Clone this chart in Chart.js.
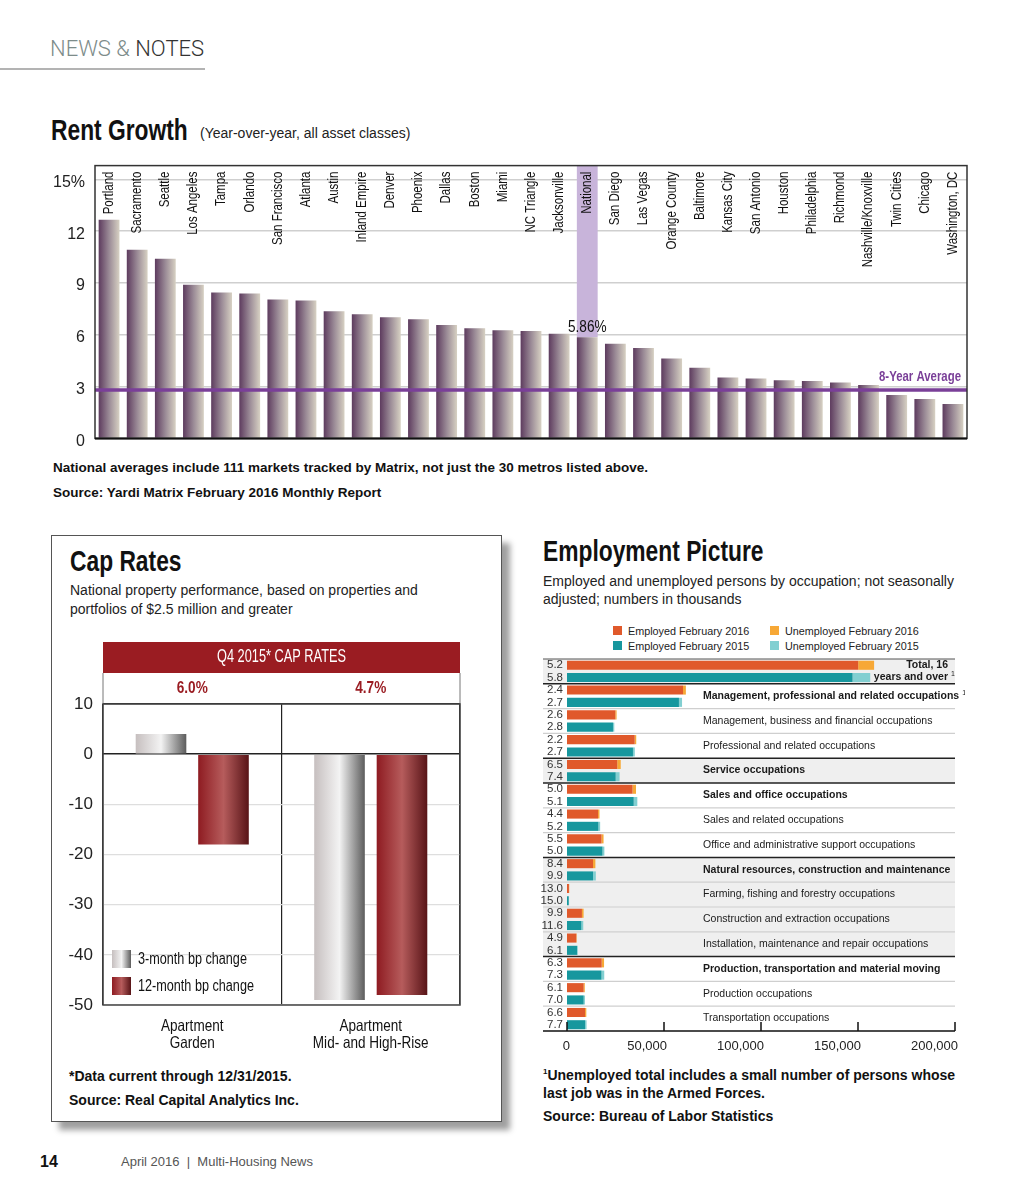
<!DOCTYPE html>
<html>
<head>
<meta charset="utf-8">
<script src="https://cdn.jsdelivr.net/npm/chart.js@4.4.1/dist/chart.umd.min.js"></script>
<style>
    body { margin: 0; background: #fff; font-family: "Liberation Sans", Arial, sans-serif; color: #111; }
    #page { position: relative; width: 1024px; height: 1195px; overflow: hidden; }
    .abs { position: absolute; white-space: nowrap; }
    .title { font-weight: bold; font-size: 30px; line-height: 32px; transform: scaleX(0.76); transform-origin: left center; }
    .sub { font-size: 14px; line-height: 19px; color: #222; }
    .note { font-weight: bold; font-size: 13.5px; line-height: 17px; color: #111; }
    .box { position: absolute; left: 51px; top: 535px; width: 449px; height: 585px; border: 1px solid #555;
           box-shadow: 8px 8px 6px rgba(0, 0, 0, 0.38); background: #fff; }
    .sw { position: absolute; width: 9px; height: 9px; }
    .lg { font-size: 10.8px; line-height: 14px; color: #222; }
</style>
</head>
<body>
<div id="page">
    <div class="abs" style="left:50px;top:35px;font-family:Roboto,sans-serif;font-weight:300;font-size:22px;line-height:28px;">
        <span style="color:#7d8c8a">NEWS &amp; </span><span style="color:#333">NOTES</span>
    </div>
    <div class="abs" style="left:0;top:68px;width:205px;height:2px;background:#b3b3b3"></div>

    <div class="abs title" style="left:51px;top:114px">Rent Growth</div>
    <div class="abs sub" style="left:200px;top:124px">(Year-over-year, all asset classes)</div>
    <div class="abs" style="left:40px;top:146px;width:935px;height:312px"><canvas id="rentChart"></canvas></div>
    <div class="abs note" style="left:53px;top:459px">National averages include 111 markets tracked by Matrix, not just the 30 metros listed above.</div>
    <div class="abs note" style="left:53px;top:484px">Source: Yardi Matrix February 2016 Monthly Report</div>

    <div class="box"></div>
    <div class="abs title" style="left:70px;top:545px">Cap Rates</div>
    <div class="abs sub" style="left:70px;top:581px">National property performance, based on properties and<br>portfolios of $2.5 million and greater</div>
    <div class="abs" style="left:50px;top:640px;width:445px;height:415px"><canvas id="capChart"></canvas></div>
    <div class="abs note" style="left:69px;top:1068px;font-size:14px">*Data current through 12/31/2015.</div>
    <div class="abs note" style="left:69px;top:1092px;font-size:14px">Source: Real Capital Analytics Inc.</div>

    <div class="abs title" style="left:543px;top:535px">Employment Picture</div>
    <div class="abs sub" style="left:543px;top:572px;line-height:18px">Employed and unemployed persons by occupation; not seasonally<br>adjusted; numbers in thousands</div>
    <div id="empLegend"></div>
    <div class="abs" style="left:540px;top:650px;width:425px;height:409px"><canvas id="empChart"></canvas></div>
    <div class="abs note" style="left:543px;top:1066px;font-size:14px;line-height:18px"><sup style="font-size:8px;line-height:0">1</sup>Unemployed total includes a small number of persons whose<br>last job was in the Armed Forces.</div>
    <div class="abs note" style="left:543px;top:1108px;font-size:14px">Source: Bureau of Labor Statistics</div>

    <div class="abs" style="left:40px;top:1152px;font-weight:bold;font-size:16px;line-height:20px">14</div>
    <div class="abs" style="left:121px;top:1154px;font-size:13px;line-height:16px;color:#555">April 2016 &nbsp;|&nbsp; Multi-Housing News</div>
</div>

<script>
const SANS = '"Liberation Sans", Arial, sans-serif'

// Rent growth (%)
const rentCities = ['Portland', 'Sacramento', 'Seattle', 'Los Angeles', 'Tampa', 'Orlando', 'San Francisco',
    'Atlanta', 'Austin', 'Inland Empire', 'Denver', 'Phoenix', 'Dallas', 'Boston', 'Miami', 'NC Triangle',
    'Jacksonville', 'National', 'San Diego', 'Las Vegas', 'Orange County', 'Baltimore', 'Kansas City',
    'San Antonio', 'Houston', 'Philadelphia', 'Richmond', 'Nashville/Knoxville', 'Twin Cities', 'Chicago',
    'Washington, DC']
const rentGrowth = [12.66, 10.93, 10.41, 8.90, 8.45, 8.39, 8.04, 7.98, 7.37, 7.19, 7.02, 6.90, 6.57, 6.38,
    6.26, 6.22, 6.06, 5.86, 5.48, 5.23, 4.63, 4.09, 3.53, 3.47, 3.37, 3.33, 3.24, 3.10, 2.52, 2.28, 1.99]
const rentAverage = 2.81
const rentTicks = [0, 3, 6, 9, 12, 15]

// Cap rates (bp change)
const capCategories = [['Apartment', 'Garden'], ['Apartment', 'Mid- and High-Rise']]
const capRates = ['6.0%', '4.7%']
const threeMonthChange = [4, -49]
const twelveMonthChange = [-18, -48]
const capTicks = [10, 0, -10, -20, -30, -40, -50]

// Employment (thousands) and unemployment rates (%)
const occupations = ['Total, 16 years and over', 'Management, professional and related occupations',
    'Management, business and financial occupations', 'Professional and related occupations',
    'Service occupations', 'Sales and office occupations', 'Sales and related occupations',
    'Office and administrative support occupations', 'Natural resources, construction and maintenance',
    'Farming, fishing and forestry occupations', 'Construction and extraction occupations',
    'Installation, maintenance and repair occupations', 'Production, transportation and material moving',
    'Production occupations', 'Transportation occupations']
const majorGroups = [0, 1, 4, 5, 8, 12]
const shadedGroups = [0, 4, 8, 9, 10, 11]
const employed2016 = [150100, 59800, 24900, 34900, 25900, 33800, 16000, 17800, 13400, 1000, 7700, 4800, 17900, 8600, 9300]
const unemployed2016 = [8200, 1470, 660, 790, 1800, 1780, 740, 1040, 1230, 150, 850, 250, 1200, 560, 660]
const employed2015 = [147200, 57700, 23700, 34000, 25100, 34400, 16200, 18300, 13400, 900, 7400, 5200, 17800, 8600, 9300]
const unemployed2015 = [9100, 1600, 680, 940, 2010, 1850, 890, 960, 1470, 160, 970, 340, 1400, 650, 780]
const rate2016 = ['5.2', '2.4', '2.6', '2.2', '6.5', '5.0', '4.4', '5.5', '8.4', '13.0', '9.9', '4.9', '6.3', '6.1', '6.6']
const rate2015 = ['5.8', '2.7', '2.8', '2.7', '7.4', '5.1', '5.2', '5.0', '9.9', '15.0', '11.6', '6.1', '7.3', '7.0', '7.7']
const employmentTicks = [0, 50000, 100000, 150000, 200000]

const legendItems = [
    ['Employed February 2016', '#e0592b'], ['Unemployed February 2016', '#f7a836'],
    ['Employed February 2015', '#17979e'], ['Unemployed February 2015', '#82cfd1']
]

const legendEl = document.getElementById('empLegend')
legendItems.forEach(([label, color], i) => {
    const x = i % 2 === 0 ? 613 : 770
    const y = i < 2 ? 626 : 641
    legendEl.innerHTML += `<div class="sw" style="left:${x}px;top:${y}px;background:${color}"></div>` +
        `<div class="abs lg" style="left:${x + 15}px;top:${y - 2.5}px">${label}</div>`
})

// condensed look: squeeze a regular face horizontally
const narrowText = (ctx, text, x, y, sx = 0.8) => {
    ctx.save()
    ctx.translate(x, y)
    ctx.scale(sx, 1)
    ctx.fillText(text, 0, 0)
    ctx.restore()
}

// horizontal gradient across a bar, position taken from the category scale
const barFill = (chart, center, width, stops, fallback) => {
    if (!chart.chartArea || !isFinite(center)) return fallback
    const g = chart.ctx.createLinearGradient(center - width / 2, 0, center + width / 2, 0)
    stops.forEach(([p, c]) => g.addColorStop(p, c))
    return g
}

const rentChart = new Chart(document.getElementById('rentChart'), {
    type: 'bar',
    data: {
        labels: rentCities,
        datasets: [{
            label: 'Rent growth',
            data: rentGrowth,
            categoryPercentage: 1,
            barPercentage: 0.74,
            backgroundColor: (ctx) => {
                const x = ctx.chart.scales.x
                if (!x) return '#8a7688'
                const w = (x.width / rentCities.length) * 0.74
                return barFill(ctx.chart, x.getPixelForValue(ctx.dataIndex), w,
                    [[0, '#5d3b5e'], [0.5, '#9a8a96'], [1, '#d7d1c3']], '#8a7688')
            }
        }]
    },
    options: {
        responsive: true,
        maintainAspectRatio: false,
        animation: false,
        layout: { padding: { top: 0, right: 8, bottom: 0 } },
        plugins: { legend: { display: false }, tooltip: { enabled: false } },
        scales: {
            x: { display: false },
            y: {
                min: 0,
                max: 15.8,
                afterBuildTicks: (scale) => { scale.ticks = rentTicks.map((v) => ({ value: v })) },
                afterFit: (scale) => { scale.width = 55 },
                border: { display: false },
                grid: { color: '#cfcfcf', lineWidth: 1.5, drawTicks: false },
                ticks: {
                    padding: 10,
                    labelOffset: 3,
                    color: '#222',
                    font: { family: SANS, size: 16 },
                    callback: (v) => (v === 15 ? '15%' : v)
                }
            }
        }
    },
    plugins: [{
        id: 'rentDecor',
        beforeDatasetsDraw: (chart) => {
            const { ctx, chartArea } = chart
            const bar = chart.getDatasetMeta(0).data[rentCities.indexOf('National')]
            ctx.save()
            ctx.fillStyle = '#c8b4da'
            ctx.fillRect(bar.x - bar.width / 2, chartArea.top, bar.width, bar.y - chartArea.top)
            ctx.restore()
        },
        afterDatasetsDraw: (chart) => {
            const { ctx, chartArea } = chart
            const meta = chart.getDatasetMeta(0)
            ctx.save()
            // city names
            ctx.fillStyle = '#111'
            ctx.font = `14px ${SANS}`
            ctx.textAlign = 'right'
            ctx.textBaseline = 'middle'
            meta.data.forEach((bar, i) => {
                ctx.save()
                ctx.translate(bar.x, chartArea.top + 6)
                ctx.rotate(-Math.PI / 2)
                narrowText(ctx, rentCities[i], 0, 0, 0.82)
                ctx.restore()
            })
            // national value
            const ni = rentCities.indexOf('National')
            const nb = meta.data[ni]
            ctx.textAlign = 'center'
            ctx.textBaseline = 'bottom'
            ctx.font = `16px ${SANS}`
            narrowText(ctx, rentGrowth[ni].toFixed(2) + '%', nb.x, nb.y - 2, 0.85)
            // 8-year average
            const ay = chart.scales.y.getPixelForValue(rentAverage)
            ctx.strokeStyle = '#7a3f98'
            ctx.lineWidth = 3.5
            ctx.beginPath()
            ctx.moveTo(chartArea.left, ay)
            ctx.lineTo(chartArea.right, ay)
            ctx.stroke()
            ctx.fillStyle = '#7a3f98'
            ctx.font = `bold 15px ${SANS}`
            ctx.textAlign = 'right'
            ctx.textBaseline = 'middle'
            narrowText(ctx, '8-Year Average', chartArea.right - 6, ay - 13, 0.76)
            // frame
            ctx.strokeStyle = '#333'
            ctx.lineWidth = 1.5
            ctx.strokeRect(chartArea.left, chartArea.top, chartArea.width, chartArea.height)
            ctx.strokeStyle = '#111'
            ctx.lineWidth = 2
            ctx.beginPath()
            ctx.moveTo(chartArea.left, chartArea.bottom)
            ctx.lineTo(chartArea.right, chartArea.bottom)
            ctx.stroke()
            ctx.restore()
        }
    }]
})

const capStops = [
    [[0, '#c6bfbf'], [0.5, '#f3f3f3'], [1, '#5c5c5c']],
    [[0, '#8e1b21'], [0.5, '#b65c5c'], [1, '#581417']]
]
const capFill = (ctx) => {
    const x = ctx.chart.scales.x
    const fallback = ctx.datasetIndex === 0 ? '#bbbbbb' : '#9b2226'
    if (!x) return fallback
    const cw = x.width / capCategories.length
    const slot = (cw * 0.7) / 2
    const center = x.getPixelForValue(ctx.dataIndex) - cw * 0.35 + slot * (ctx.datasetIndex + 0.5)
    return barFill(ctx.chart, center, slot * 0.81, capStops[ctx.datasetIndex], fallback)
}

const capChart = new Chart(document.getElementById('capChart'), {
    type: 'bar',
    data: {
        labels: capCategories,
        datasets: [
            { label: '3-month bp change', data: threeMonthChange, backgroundColor: capFill, categoryPercentage: 0.7, barPercentage: 0.81 },
            { label: '12-month bp change', data: twelveMonthChange, backgroundColor: capFill, categoryPercentage: 0.7, barPercentage: 0.81 }
        ]
    },
    options: {
        responsive: true,
        maintainAspectRatio: false,
        animation: false,
        layout: { padding: { top: 64, right: 35 } },
        plugins: { legend: { display: false }, tooltip: { enabled: false } },
        scales: {
            x: {
                afterFit: (scale) => { scale.height = 50 },
                border: { display: false },
                grid: { offset: true, color: '#222', lineWidth: 1.2, drawTicks: false },
                ticks: { display: false }
            },
            y: {
                min: -50,
                max: 10,
                afterBuildTicks: (scale) => { scale.ticks = capTicks.map((v) => ({ value: v })) },
                afterFit: (scale) => { scale.width = 53 },
                border: { display: false },
                grid: {
                    drawTicks: false,
                    color: (c) => (c.tick && (c.tick.value === 0 || c.tick.value === 10) ? '#222' : '#dedede'),
                    lineWidth: (c) => (c.tick && c.tick.value === 0 ? 1.5 : 1.2)
                },
                ticks: { padding: 10, color: '#222', font: { family: SANS, size: 17 } }
            }
        }
    },
    plugins: [{
        id: 'capDecor',
        afterDraw: (chart) => {
            const { ctx, chartArea } = chart
            const top = chartArea.top
            const xs = chart.scales.x
            ctx.save()
            // header band
            ctx.fillStyle = '#9a1c22'
            ctx.fillRect(chartArea.left, top - 62, chartArea.width, 31)
            ctx.fillStyle = '#fff'
            ctx.font = `18px ${SANS}`
            ctx.textAlign = 'center'
            ctx.textBaseline = 'middle'
            narrowText(ctx, 'Q4 2015* CAP RATES', (chartArea.left + chartArea.right) / 2, top - 47, 0.71)
            ctx.fillStyle = '#9a1c22'
            ctx.font = `bold 16px ${SANS}`
            capRates.forEach((r, i) => narrowText(ctx, r, xs.getPixelForValue(i), top - 15, 0.85))
            ctx.strokeStyle = '#777'
            ctx.lineWidth = 1
            ctx.beginPath()
            ctx.moveTo(chartArea.left, top - 31)
            ctx.lineTo(chartArea.left, top)
            ctx.moveTo(chartArea.right, top - 31)
            ctx.lineTo(chartArea.right, top)
            ctx.stroke()
            ctx.strokeStyle = '#444'
            ctx.lineWidth = 1.5
            ctx.strokeRect(chartArea.left, top, chartArea.width, chartArea.height)
            // category names under the axis
            ctx.fillStyle = '#111'
            ctx.font = `16.5px ${SANS}`
            capCategories.forEach((lines, i) => {
                lines.forEach((t, j) => narrowText(ctx, t, xs.getPixelForValue(i), chartArea.bottom + 21 + j * 17, 0.82))
            })
            // legend
            chart.data.datasets.forEach((ds, i) => {
                const y = chartArea.bottom - 55 + i * 27
                const x = chartArea.left + 9
                const g = ctx.createLinearGradient(x, 0, x + 19, 0)
                capStops[i].forEach(([p, c]) => g.addColorStop(p, c))
                ctx.fillStyle = g
                ctx.fillRect(x, y, 19, 18)
                ctx.fillStyle = '#111'
                ctx.font = `16px ${SANS}`
                ctx.textAlign = 'left'
                narrowText(ctx, ds.label, x + 26, y + 9.5, 0.79)
            })
            ctx.restore()
        }
    }]
})

const empChart = new Chart(document.getElementById('empChart'), {
    type: 'bar',
    data: {
        labels: occupations,
        datasets: [
            { label: legendItems[0][0], data: employed2016, backgroundColor: legendItems[0][1], stack: 'y2016' },
            { label: legendItems[1][0], data: unemployed2016, backgroundColor: legendItems[1][1], stack: 'y2016' },
            { label: legendItems[2][0], data: employed2015, backgroundColor: legendItems[2][1], stack: 'y2015' },
            { label: legendItems[3][0], data: unemployed2015, backgroundColor: legendItems[3][1], stack: 'y2015' }
        ]
    },
    options: {
        indexAxis: 'y',
        responsive: true,
        maintainAspectRatio: false,
        animation: false,
        datasets: { bar: { categoryPercentage: 0.99, barPercentage: 0.74 } },
        layout: { padding: { left: 27, right: 10, top: 9 } },
        plugins: { legend: { display: false }, tooltip: { enabled: false } },
        scales: {
            x: {
                stacked: true,
                min: 0,
                max: 200000,
                afterBuildTicks: (scale) => { scale.ticks = employmentTicks.map((v) => ({ value: v })) },
                afterFit: (scale) => { scale.height = 28 },
                border: { display: false },
                grid: { display: false, drawTicks: false },
                ticks: {
                    align: 'end',
                    labelOffset: 3,
                    padding: 8,
                    color: '#222',
                    font: { family: SANS, size: 13 },
                    callback: (v) => v.toLocaleString('en-US')
                }
            },
            y: { stacked: true, display: false }
        }
    },
    plugins: [{
        id: 'empDecor',
        beforeDatasetsDraw: (chart) => {
            const { ctx, chartArea } = chart
            const rowH = chartArea.height / occupations.length
            const y = chart.scales.y
            ctx.save()
            ctx.fillStyle = '#efefef'
            shadedGroups.forEach((i) => {
                ctx.fillRect(3, y.getPixelForValue(i) - rowH / 2, chartArea.right - 3, rowH)
            })
            occupations.forEach((o, i) => {
                const top = y.getPixelForValue(i) - rowH / 2
                ctx.beginPath()
                if (i === 0) {
                    ctx.strokeStyle = '#555'
                    ctx.lineWidth = 1.2
                } else if (majorGroups.includes(i)) {
                    ctx.strokeStyle = '#222'
                    ctx.lineWidth = 1.5
                } else {
                    ctx.strokeStyle = '#cfcfcf'
                    ctx.lineWidth = 1.2
                }
                ctx.moveTo(3, top)
                ctx.lineTo(chartArea.right, top)
                ctx.stroke()
            })
            ctx.restore()
        },
        afterDatasetsDraw: (chart) => {
            const { ctx, chartArea } = chart
            const bars16 = chart.getDatasetMeta(0).data
            const bars15 = chart.getDatasetMeta(2).data
            ctx.save()
            ctx.textBaseline = 'middle'
            // unemployment rates
            ctx.fillStyle = '#333'
            ctx.font = `11.5px ${SANS}`
            ctx.textAlign = 'right'
            bars16.forEach((b, i) => {
                ctx.fillText(rate2016[i], 23, b.y)
                ctx.fillText(rate2015[i], 23, bars15[i].y)
            })
            // occupation names
            occupations.forEach((o, i) => {
                const mid = (bars16[i].y + bars15[i].y) / 2
                const bold = majorGroups.includes(i)
                ctx.fillStyle = '#1a1a1a'
                ctx.font = `${bold ? 'bold ' : ''}10.5px ${SANS}`
                if (i === 0) {
                    ctx.textAlign = 'right'
                    ctx.fillText('Total, 16', chartArea.right - 7, bars16[i].y)
                    ctx.fillText('years and over', chartArea.right - 7, bars15[i].y)
                    ctx.font = `7px ${SANS}`
                    ctx.textAlign = 'left'
                    ctx.fillText('1', chartArea.right - 4, bars15[i].y - 3)
                } else {
                    ctx.textAlign = 'left'
                    ctx.fillText(o, 163, mid)
                    if (i === 1) {
                        const w = ctx.measureText(o).width
                        ctx.font = `7px ${SANS}`
                        ctx.fillText('1', 163 + w + 3, mid - 3)
                    }
                }
            })
            // axis with upward ticks
            ctx.strokeStyle = '#111'
            ctx.lineWidth = 1.5
            ctx.beginPath()
            ctx.moveTo(3, chartArea.bottom)
            ctx.lineTo(chartArea.right, chartArea.bottom)
            employmentTicks.forEach((v) => {
                const x = chart.scales.x.getPixelForValue(v)
                ctx.moveTo(x, chartArea.bottom)
                ctx.lineTo(x, chartArea.bottom - 9)
            })
            ctx.stroke()
            ctx.restore()
        }
    }]
})
</script>
</body>
</html>
